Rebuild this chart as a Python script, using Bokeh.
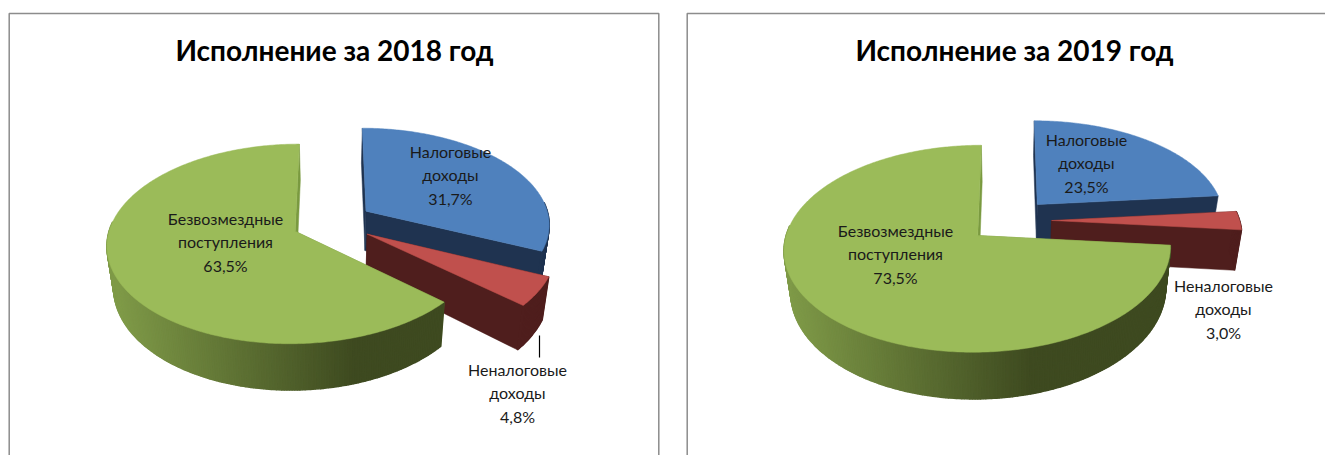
import math
from bokeh.plotting import figure
from bokeh.layouts import row
from bokeh.models import Spacer, ColumnDataSource
from bokeh.core.properties import value
from bokeh.embed import file_html
from bokeh.resources import INLINE

categories = ["Налоговые доходы", "Неналоговые доходы", "Безвозмездные поступления"]
values_2018 = [31.7, 4.8, 63.5]
values_2019 = [23.5, 3.0, 73.5]
title_2018 = "Исполнение за 2018 год"
title_2019 = "Исполнение за 2019 год"

TOP = ["#4f81bd", "#c0504d", "#9bbb59"]
WALL = ["#1f3350", "#4f1e1d", "#7a9a40"]
RIM_L = (127, 154, 72)
RIM_D = (62, 74, 32)
FONT = "Lato"
H = 455


def draw(p, vals, title, title_x, x0, y0, a, b, persp, expl, depth, label_pos, frame):
    total = sum(vals)

    def proj(X, Y, low=False):
        k = 1 - persp * Y
        if low:
            return x0 + 0.97 * a * X / k, y0 + (b * Y + depth) / k
        return x0 + a * X / k, y0 + b * Y / k

    p.multi_line([frame[0]], [frame[1]], line_color="#8c8c8c", line_width=1.5)

    start = 0.0
    for i, v in enumerate(vals):
        end = start + v / total * 2 * math.pi
        mid = (start + end) / 2
        ex, ey = expl * math.sin(mid), -expl * math.cos(mid)
        n = max(8, int(v * 5))
        angs = [start + (end - start) * j / n for j in range(n + 1)]
        pts = [(ex + math.sin(t), ey - math.cos(t)) for t in angs]
        wx, wy = [], []
        for (X, Y) in (pts[0], pts[-1]):
            q = [proj(ex, ey), proj(X, Y), proj(X, Y, True), proj(ex, ey, True)]
            wx.append([c[0] for c in q])
            wy.append([c[1] for c in q])
        p.patches(wx, wy, fill_color=WALL[i], line_color=WALL[i], line_width=0.5)
        rx, ry, rc = [], [], []
        top_pts = [proj(*q) for q in pts]
        low_pts = [proj(*q, True) for q in pts]
        left = x0 - (1 + expl * 0.8) * a
        span = 1.3 * a
        for j in range(n):
            tm = (angs[j] + angs[j + 1]) / 2
            if -math.cos(tm) < -0.1:
                continue
            A, B, C, D = top_pts[j], top_pts[j + 1], low_pts[j + 1], low_pts[j]
            rx.append([A[0], B[0], C[0], D[0]])
            ry.append([A[1], B[1], C[1], D[1]])
            if i == 2:
                f = min(1, max(0, ((A[0] + B[0]) / 2 - left) / span))
                col = tuple(int(RIM_L[c] + (RIM_D[c] - RIM_L[c]) * f) for c in range(3))
                rc.append("#%02x%02x%02x" % col)
            else:
                rc.append(WALL[i])
        if rx:
            p.patches(rx, ry, fill_color=rc, line_color=rc, line_width=1.5)
        apex = proj(ex, ey)
        p.patch([apex[0]] + [c[0] for c in top_pts], [apex[1]] + [c[1] for c in top_pts],
                fill_color=TOP[i], line_color=TOP[i], line_width=0.5)
        start = end

    tx, ty, tt = [], [], []
    for cat, v, (lx, ly) in zip(categories, vals, label_pos):
        lines = cat.split(" ") + [f"{v:.1f}".replace(".", ",") + "%"]
        for k, s in enumerate(lines):
            tx.append(lx)
            ty.append(ly + k * 23.3)
            tt.append(s)
    src = ColumnDataSource(dict(x=tx, y=ty, t=tt))
    p.text("x", "y", text="t", source=src, text_font=value(FONT), text_font_size="16px",
           text_align="center", text_baseline="middle", text_color="#1a1a1a")
    p.text([title_x], [49], text=[title], text_font=value(FONT), text_font_size="28px",
           text_font_style="bold", text_align="center", text_baseline="middle", text_color="#000000")


def make(x1, x2):
    p = figure(width=x2 - x1, height=H, x_range=(x1, x2), y_range=(H, 0), x_axis_type=None,
               y_axis_type=None, toolbar_location=None, output_backend="svg", min_border=0,
               background_fill_color="white", border_fill_color="white")
    p.grid.visible = False
    p.outline_line_color = None
    return p


p1 = make(0, 660)
draw(p1, values_2018, title_2018, 334, 332, 222, 184, 96, 0.125, 0.22, 40,
     [(450, 151), (517, 369), (225, 218)],
     ([8.7, 8.7, 658.3, 658.3], [H, 13, 13, H]))
p1.line([539, 539], [335, 357], line_color="#000000", line_width=1.2)

p2 = make(680, 1325)
draw(p2, values_2019, title_2019, 1014, 1009, 220, 188, 98, 0.125, 0.224, 40,
     [(1086, 139), (1223, 285), (895, 230)],
     ([686.7, 686.7, 1325], [H, 13, 13]))

page = row(p1, Spacer(width=20, height=H), p2)
open("out.html", "w").write(file_html(page, INLINE))
